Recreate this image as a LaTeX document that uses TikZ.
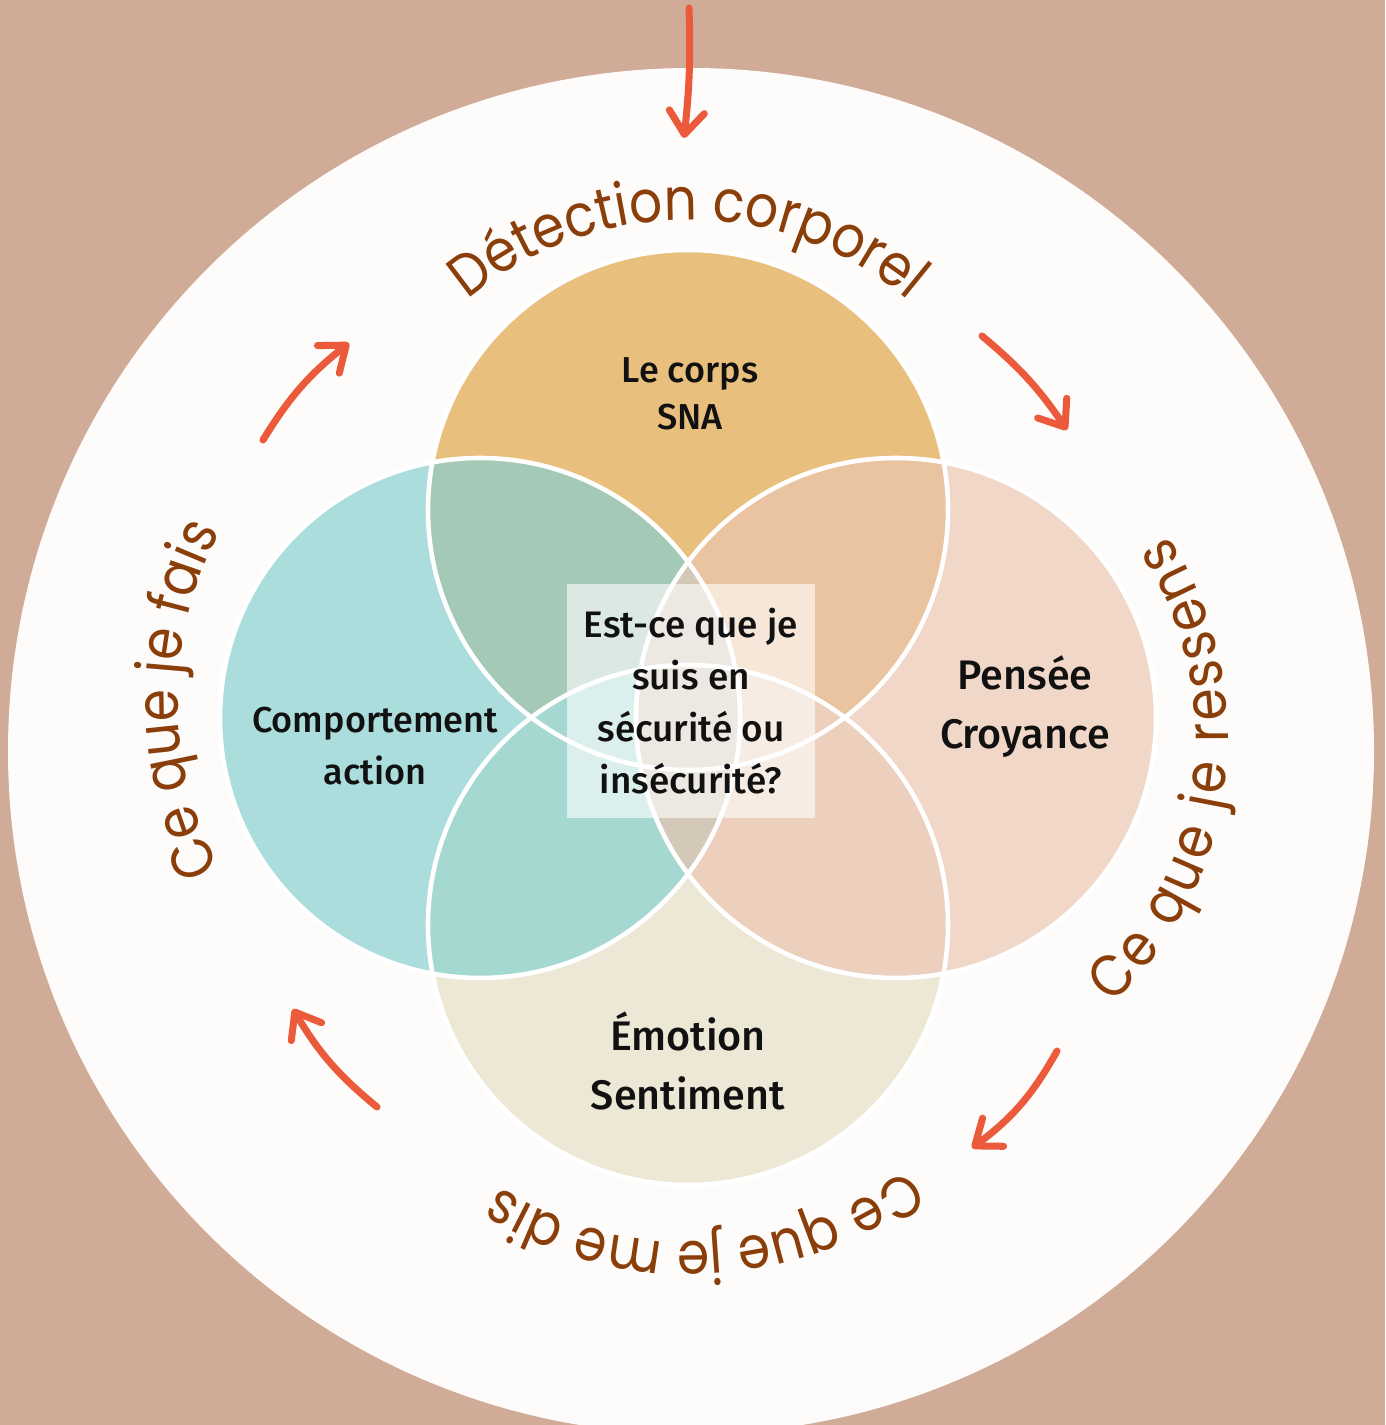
\documentclass[tikz,border=0pt]{standalone}
\usepackage{fontspec}
\setmainfont{Fira Sans}[UprightFont=* Medium]
\newfontfamily\arcfont{Poppins}[FakeStretch=0.88]
\usetikzlibrary{arrows.meta,decorations.text}

\definecolor{bgtan}{HTML}{D0AC98}
\definecolor{paper}{HTML}{FEFCFA}
\definecolor{corpsc}{HTML}{E9BF7E}
\definecolor{actionc}{HTML}{AADDDC}
\definecolor{penseec}{HTML}{F1D7C8}
\definecolor{emotionc}{HTML}{EDE7D6}
\definecolor{corpsactionc}{HTML}{A5C9B7}
\definecolor{corpspenseec}{HTML}{EAC3A0}
\definecolor{emotionactionc}{HTML}{A6D8D2}
\definecolor{emotionpenseec}{HTML}{ECD0BD}
\definecolor{centrec}{HTML}{D4C9B8}
\definecolor{brownc}{HTML}{8A3E0A}
\definecolor{arrowc}{HTML}{EB5A3B}
\definecolor{inkc}{HTML}{111111}

\tikzset{
  cyclearrow/.style={draw=arrowc, line width=4pt, line cap=round,
    -{Straight Barb[length=13pt, width=20pt, round]}},
  arclabel/.style={decorate, decoration={text along path, text align=center,
    text color=brownc, text={|\arcfont\fontsize{33.5}{38}\selectfont|#1}}},
  arclabelwide/.style={decorate, decoration={text along path, text align=center,
    text color=brownc, text={|\arcfont\fontsize{33.5}{38}\selectfont\kern2pt|#1}}},
  ring/.style={draw=white, line width=2.6pt},
  smalllbl/.style={align=center, text=inkc, font=\fontsize{20.5}{29.5}\selectfont},
  biglbl/.style={align=center, text=inkc, font=\fontsize{23.5}{33.5}\selectfont}
}

\begin{document}
\begin{tikzpicture}[x=0.02cm, y=0.02cm]
% background and the big white disc
\clip (0,0) rectangle (1385,1425);
\fill[bgtan] (0,0) rectangle (1385,1425);
\coordinate (cmain) at (691,674);
\fill[paper] (cmain) circle[radius=683];

% the four circles
\def\rad{260}
\coordinate (ctop) at (688,915);
\coordinate (cbot) at (688,500);
\coordinate (cleft) at (480,707);
\coordinate (cright) at (896,707);
\fill[corpsc] (ctop) circle[radius=\rad];
\fill[penseec] (cright) circle[radius=\rad];
\fill[emotionc] (cbot) circle[radius=\rad];
\fill[actionc] (cleft) circle[radius=\rad];

% overlaps
\begin{scope}
  \clip (ctop) circle[radius=\rad];
  \fill[corpsactionc] (cleft) circle[radius=\rad];
  \fill[corpspenseec] (cright) circle[radius=\rad];
\end{scope}
\begin{scope}
  \clip (cbot) circle[radius=\rad];
  \fill[emotionactionc] (cleft) circle[radius=\rad];
  \fill[emotionpenseec] (cright) circle[radius=\rad];
\end{scope}
\begin{scope}
  \clip (cleft) circle[radius=\rad];
  \fill[centrec] (cright) circle[radius=\rad];
\end{scope}

% white outlines
\draw[ring] (ctop) circle[radius=\rad];
\draw[ring] (cbot) circle[radius=\rad];
\draw[ring] (cleft) circle[radius=\rad];
\draw[ring] (cright) circle[radius=\rad];

% labels inside
\node[smalllbl, font=\fontsize{20.5}{27}\selectfont] (corps) at (690,1031) {Le corps\\SNA};
\node[smalllbl] (action) at (375,679) {Comportement\\action};
\node[biglbl] (pensee) at (1025,718) {Pensée\\Croyance};
\node[biglbl] (emotion) at (688,364) {Émotion\\Sentiment};
\node[smalllbl, fill=white, fill opacity=0.6, text opacity=1,
  minimum width=4.96cm, minimum height=4.7cm, font=\fontsize{21}{29.5}\selectfont]
  (question) at (691,724) {Est-ce que je\\suis en\\sécurité ou\\insécurité?};

% curved titles
\path[arclabel={Détection corporel}] (688,862) ++(180:343) arc[start angle=180, end angle=0, radius=343];
\path[arclabelwide={Ce que je ressens}] (861,688) ++(-97:367) arc[start angle=-97, end angle=83, radius=367];
\path[arclabel={Ce que je me dis}] (690,541) ++(2.5:358) arc[start angle=2.5, end angle=-177.5, radius=358];
\path[arclabel={Ce que je fais}] (535,725) ++(270:357) arc[start angle=270, end angle=90, radius=357];

% arrows of the cycle
\coordinate (a1s) at (689,1417); \coordinate (a1e) at (684,1287);
\coordinate (a2s) at (982,1089); \coordinate (a2e) at (1067,995);
\coordinate (a3s) at (1057,374); \coordinate (a3e) at (972,277);
\coordinate (a4s) at (377,318);  \coordinate (a4e) at (293,416);
\coordinate (a5s) at (263,985);  \coordinate (a5e) at (349,1082);
\draw[cyclearrow] (a1s) to[bend left=4] (a1e);
\draw[cyclearrow] (a2s) to[bend left=8] (a2e);
\draw[cyclearrow] (a3s) to[bend left=12] (a3e);
\draw[cyclearrow] (a4s) to[bend left=10] (a4e);
\draw[cyclearrow] (a5s) to[bend left=10] (a5e);
\end{tikzpicture}
\end{document}
